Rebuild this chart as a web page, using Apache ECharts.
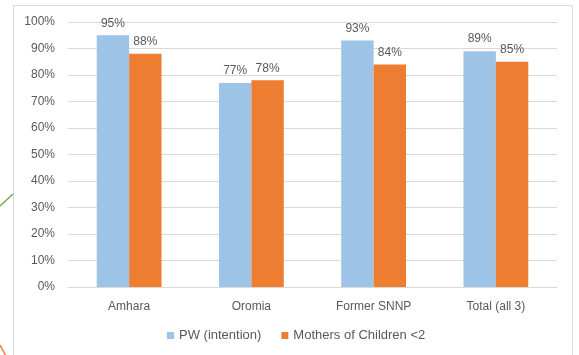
<!DOCTYPE html>
<html>
<head>
<meta charset="utf-8">
<script src="https://cdn.jsdelivr.net/npm/echarts@6/dist/echarts.min.js"></script>
<style>
  html, body { margin: 0; padding: 0; background: #fff; }
  #chart { width: 579px; height: 355px; }
</style>
</head>
<body>
<div id="chart"></div>
<script>
// Regions and survey results (share of respondents)
const categories = ['Amhara', 'Oromia', 'Former SNNP', 'Total (all 3)'];
const pwIntention = [95, 77, 93, 89];
const mothersUnder2 = [88, 78, 84, 85];
const seriesNames = ['PW (intention)', 'Mothers of Children <2'];

const textColor = '#595959';
const font = 'Liberation Sans, Arial, sans-serif';

const chart = echarts.init(document.getElementById('chart'), null, { renderer: 'canvas' });

const labelStyle = {
  show: true,
  position: 'top',
  distance: 6,
  color: textColor,
  fontSize: 12,
  fontFamily: font,
  formatter: p => p.value + '%'
};

chart.setOption({
  animation: false,
  backgroundColor: '#ffffff',
  graphic: [
    // frame around the chart area
    { type: 'rect', shape: { x: 13.5, y: 5.5, width: 559, height: 360 },
      style: { fill: 'none', stroke: '#d9d9d9', lineWidth: 1 }, z: -1 },
    // connector strokes from the surrounding slide
    { type: 'line', shape: { x1: 0, y1: 206, x2: 13, y2: 194 },
      style: { stroke: '#70ad47', lineWidth: 1.5 } },
    { type: 'line', shape: { x1: 0, y1: 345, x2: 6, y2: 356 },
      style: { stroke: '#ed7d31', lineWidth: 1.5 } }
  ],
  grid: { left: 68, right: 22, top: 22, bottom: 68, containLabel: false },
  legend: {
    data: seriesNames,
    bottom: 8,
    left: 162,
    itemWidth: 7,
    itemHeight: 7,
    itemGap: 20,
    icon: 'rect',
    textStyle: { color: textColor, fontSize: 13, fontFamily: font }
  },
  xAxis: {
    type: 'category',
    data: categories,
    axisLine: { lineStyle: { color: '#d9d9d9' } },
    axisTick: { show: false },
    axisLabel: { color: textColor, fontSize: 12, fontFamily: font, margin: 14 }
  },
  yAxis: {
    type: 'value',
    min: 0,
    max: 100,
    interval: 10,
    axisLine: { show: false },
    axisTick: { show: false },
    splitLine: { lineStyle: { color: '#d9d9d9' } },
    axisLabel: { color: textColor, fontSize: 12, fontFamily: font, margin: 13, formatter: v => v + '%' }
  },
  series: [
    { name: seriesNames[0], type: 'bar', data: pwIntention, barGap: '0%', barCategoryGap: '47%',
      itemStyle: { color: '#9dc3e6' }, label: labelStyle },
    { name: seriesNames[1], type: 'bar', data: mothersUnder2, barGap: '0%', barCategoryGap: '47%',
      itemStyle: { color: '#ed7d31' }, label: labelStyle }
  ]
});
</script>
</body>
</html>
